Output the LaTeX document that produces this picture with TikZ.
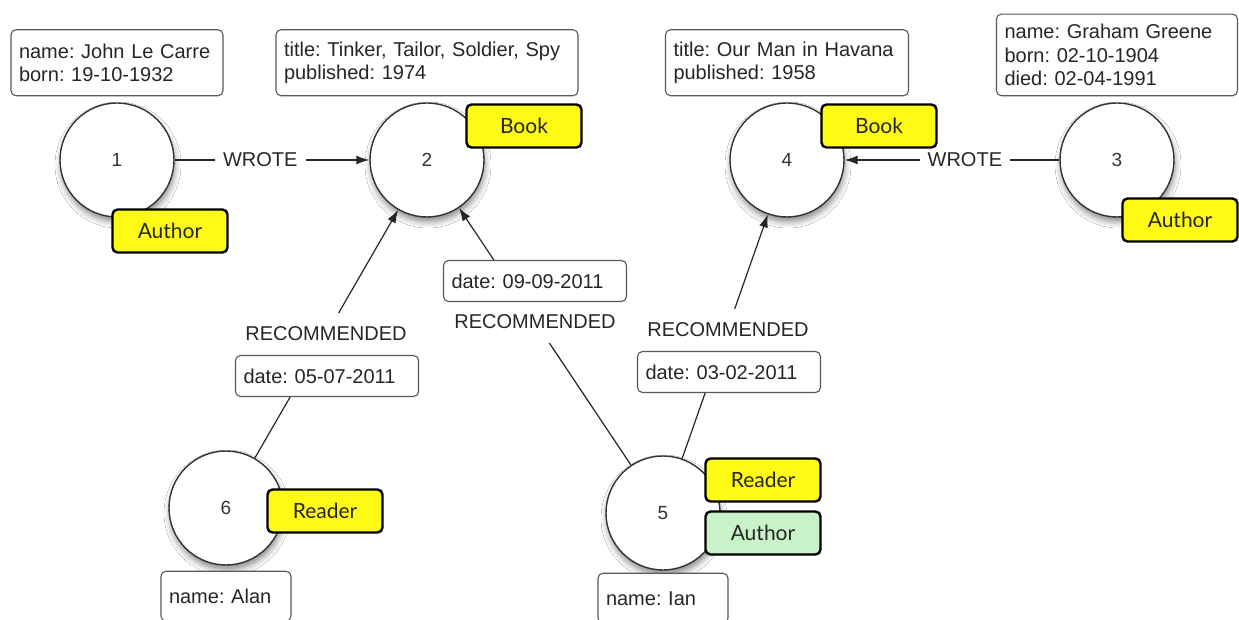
\documentclass[tikz,border=0pt]{standalone}
\usepackage{fontspec}
\setmainfont{Liberation Sans}
\newfontfamily\tagfamily{Lato}
\usetikzlibrary{arrows.meta, positioning, shadows.blur}
\frenchspacing

\definecolor{tagyellow}{RGB}{255,250,20}
\definecolor{taggreen}{RGB}{200,242,200}
\newcommand{\propfont}{\fontsize{20}{23.5}\selectfont}
\newcommand{\tagfont}{\tagfamily\fontsize{21}{24}\selectfont}

\tikzset{
    entity/.style={circle, draw=black!80, line width=1.4pt, fill=white, minimum size=114pt, inner sep=0pt, text=black!80, font=\fontsize{19}{22}\selectfont, blur shadow={shadow xshift=1pt, shadow yshift=-5pt, shadow blur radius=6pt, shadow opacity=45}},
    props/.style={rectangle, rounded corners=5pt, draw=black!65, line width=1.1pt, fill=white, align=left, inner xsep=8pt, inner ysep=10pt, minimum height=66pt, text=black!85, font=\propfont},
    relbox/.style={props, minimum height=41pt, text width=167pt},
    namebox/.style={props, minimum height=50pt, text width=114pt},
    reltext/.style={fill=white, inner xsep=8pt, minimum height=42pt, text=black!85, font=\propfont},
    labeltag/.style={rectangle, rounded corners=5pt, draw=black, line width=2.4pt, fill=tagyellow, minimum width=115pt, minimum height=43pt, text=black!85, font=\tagfont},
    arrow/.style={-{Latex[length=13pt,width=9pt]}, line width=1.2pt, draw=black!85}
}

\begin{document}
\begin{tikzpicture}[x=1pt, y=-1pt]
    \useasboundingbox (0,0) rectangle (1239,620);
    \fill[white] (0,0) rectangle (1239,620);

    % entities
    \node (n1) [entity] at (117,160) {1};
    \node (n2) [entity] at (427,160) {2};
    \node (n4) [entity] at (787,160) {4};
    \node (n3) [entity] at (1117,160) {3};
    \node (n6) [entity] at (226,508) {6};
    \node (n5) [entity] at (663,513) {5};

    % properties
    \node (p1) [props, above=6pt of n1, text width=196pt] {name: John Le Carre\\born: 19-10-1932};
    \node (p2) [props, above=6pt of n2, text width=286pt] {title: Tinker, Tailor, Soldier, Spy\\published: 1974};
    \node (p4) [props, above=6pt of n4, text width=227pt] {title: Our Man in Havana\\published: 1958};
    \node (p3) [props, above=6pt of n3, text width=225pt] {name: Graham Greene\\born: 02-10-1904\\died: 02-04-1991};
    \node (p6) [namebox, below=5pt of n6] {name: Alan};
    \node (p5) [namebox, below=2pt of n5] {name: Ian};

    % relationships
    \draw[arrow] (n1) -- node[reltext, pos=0.44] (w1) {WROTE} (n2);
    \draw[arrow] (n3) -- node[reltext, pos=0.44] (w2) {WROTE} (n4);
    \draw[arrow] (n6) -- (n2);
    \draw[arrow] (n5) -- (n2);
    \draw[arrow] (n5) -- (n4);

    \node (r1) [reltext] at (326,334) {RECOMMENDED};
    \node (d1) [relbox] at (327,376) {date: 05-07-2011};
    \node (r2) [reltext] at (535,322) {RECOMMENDED};
    \node (d2) [relbox] at (535,281) {date: 09-09-2011};
    \node (r3) [reltext] at (728,330) {RECOMMENDED};
    \node (d3) [relbox] at (729,372) {date: 03-02-2011};

    % labels
    \node (t1) [labeltag] at (170,231) {Author};
    \node (t2) [labeltag] at (524,126) {Book};
    \node (t4) [labeltag] at (879,126) {Book};
    \node (t3) [labeltag] at (1180,220) {Author};
    \node (t6) [labeltag] at (325,511) {Reader};
    \node (t5) [labeltag] at (763,480) {Reader};
    \node (t5b) [labeltag, fill=taggreen] at (763,533) {Author};
\end{tikzpicture}
\end{document}
